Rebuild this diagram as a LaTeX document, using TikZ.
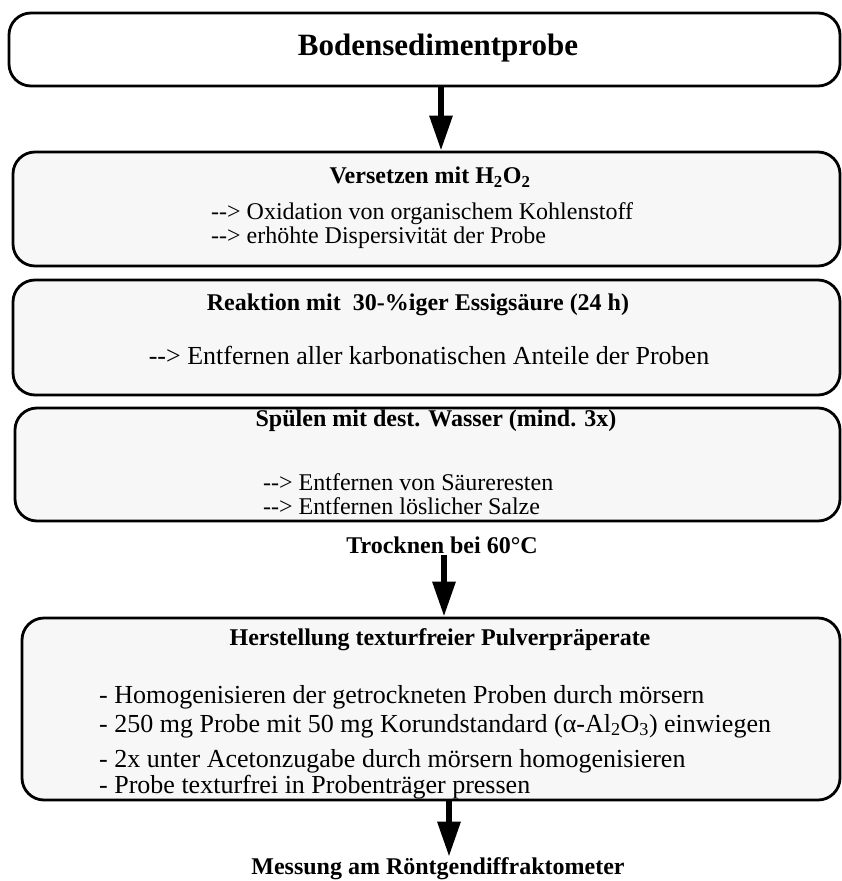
\documentclass[tikz,border=0pt]{standalone}
\usepackage{fontspec}
\setmainfont{Liberation Serif}
\usetikzlibrary{arrows.meta,positioning}

\tikzset{
  stepframe/.style={draw, line width=2.8pt, rounded corners=22pt, inner sep=0pt},
  shaded/.style={fill=black!3},
  titletext/.style={font=\fontsize{31}{36}\selectfont\bfseries},
  headtext/.style={font=\fontsize{24}{28}\selectfont\bfseries, inner sep=1pt},
  bodytext/.style={font=\fontsize{26}{28}\selectfont, inner sep=1pt},
  smalltext/.style={font=\fontsize{24}{26}\selectfont, inner sep=1pt, anchor=west},
  flow/.style={line width=6pt, -{Triangle[width=22pt,length=35pt]}},
}

\begin{document}
\begin{tikzpicture}[x=1pt, y=-1pt]
\useasboundingbox (0,0) rectangle (842,881);

% Kaesten
\node[stepframe, minimum width=831pt, minimum height=73pt] (probe) at (424.5,49.5) {};
\node[stepframe, shaded, minimum width=827pt, minimum height=114pt] (oxid) at (426.5,209) {};
\node[stepframe, shaded, minimum width=827pt, minimum height=115pt] (essig) at (426.5,337.5) {};
\node[stepframe, shaded, minimum width=825pt, minimum height=113pt] (spuel) at (427.5,464.5) {};
\node[stepframe, shaded, minimum width=818pt, minimum height=182pt] (pulver) at (431,709) {};

% Texte
\node[titletext] (probetext) at (438,48) {Bodensedimentprobe};

\node[headtext] (oxidkopf) at (430,177) {Versetzen mit H\textsubscript{2}O\textsubscript{2}};
\node[smalltext] (oxid1) at (210,214) {-{}-> Oxidation von organischem Kohlenstoff};
\node[smalltext] (oxid2) at (210,238) {-{}-> erhöhte Dispersivität der Probe};

\node[headtext] (essigkopf) at (418,305) {Reaktion mit~ 30-\%iger Essigsäure (24 h)};
\node[bodytext] (essigtext) at (429,355) {-{}-> Entfernen aller karbonatischen Anteile der Proben};

\node[headtext] (spuelkopf) at (436,421) {Spülen mit dest. Wasser (mind. 3x)};
\node[smalltext] (spuel1) at (262,482) {-{}-> Entfernen von Säureresten};
\node[smalltext] (spuel2) at (262,506) {-{}-> Entfernen löslicher Salze};

\node[headtext] (trocken) at (442,545) {Trocknen bei 60°C};

\node[headtext] (pulverkopf) at (440,640) {Herstellung texturfreier Pulverpräperate};
\node[bodytext, anchor=west] (schritt1) at (98,697) {- Homogenisieren der getrockneten Proben durch mörsern};
\node[bodytext, anchor=west] (schritt2) at (98,726) {- 250 mg Probe mit 50 mg Korundstandard (α-Al\textsubscript{2}O\textsubscript{3}) einwiegen};
\node[bodytext, anchor=west] (schritt3) at (98,761) {- 2x unter Acetonzugabe durch mörsern homogenisieren};
\node[bodytext, anchor=west] (schritt4) at (98,787) {- Probe texturfrei in Probenträger pressen};

\node[headtext] (messung) at (438,869) {Messung am Röntgendiffraktometer};

% Pfeile
\draw[flow] ([xshift=16.5pt]probe.south) -- ([xshift=14.5pt]oxid.north);
\draw[flow] ([xshift=2pt]trocken.south) -- ([xshift=13pt]pulver.north);
\draw[flow] ([xshift=18pt]pulver.south) -- ([xshift=11pt]messung.north);
\end{tikzpicture}
\end{document}
